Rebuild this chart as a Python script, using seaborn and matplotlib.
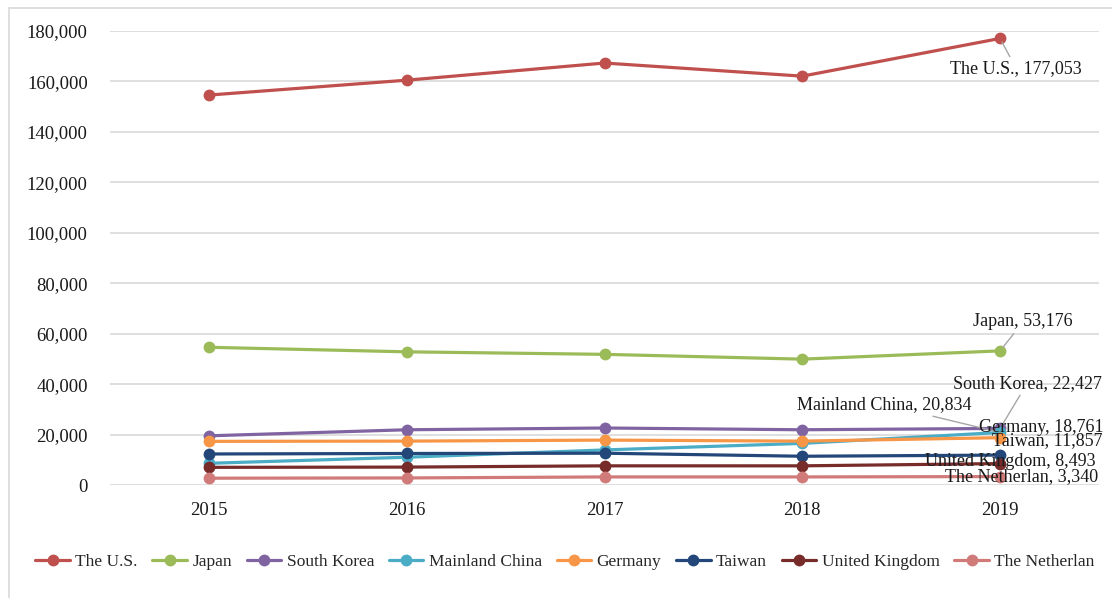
import numpy as np
import pandas as pd
import matplotlib
matplotlib.use("Agg")
import matplotlib.pyplot as plt
from matplotlib.ticker import FuncFormatter
from matplotlib.lines import Line2D
import seaborn as sns

years = ["2015", "2016", "2017", "2018", "2019"]
countries = ["The U.S.", "Japan", "South Korea", "Mainland China", "Germany",
             "Taiwan", "United Kingdom", "The Netherlan"]
us = [154600, 160500, 167300, 162100, 177053]
japan = [54600, 52800, 51800, 49900, 53176]
south_korea = [19500, 21900, 22600, 21900, 22427]
mainland_china = [8600, 11000, 13900, 16500, 20834]
germany = [17300, 17400, 17800, 17400, 18761]
taiwan = [12300, 12500, 12600, 11400, 11857]
uk = [7000, 7100, 7600, 7600, 8493]
netherlands = [2700, 2800, 3200, 3200, 3340]
series = [us, japan, south_korea, mainland_china, germany, taiwan, uk, netherlands]

colors = ["#C0504D", "#9BBB59", "#8064A2", "#4BACC6", "#F79646",
          "#24477A", "#772C2A", "#D07A7A"]

rows = []
for c, vals in zip(countries, series):
    for i, v in enumerate(vals):
        rows.append({"idx": i, "value": v, "country": c})
df = pd.DataFrame(rows)

sns.set_theme(style="white")
plt.rcParams["font.family"] = ["Liberation Serif", "DejaVu Serif"]

fig = plt.figure(figsize=(11.12, 5.98), dpi=100)
ax = fig.add_axes([110 / 1112, 1 - 485 / 598, (1099 - 110) / 1112, (485 - 31) / 598])

sns.lineplot(data=df, x="idx", y="value", hue="country", hue_order=countries,
             palette=colors, marker="o", markersize=8.5, markeredgewidth=0,
             linewidth=2.3, ax=ax, legend=False, sort=False)

ax.set_xlim(-0.5, 4.5)
ax.set_ylim(0, 180000)
ax.set_yticks(np.arange(0, 180001, 20000))
ax.yaxis.set_major_formatter(FuncFormatter(lambda v, p: f"{int(v):,}"))
ax.set_xticks(range(len(years)))
ax.set_xticklabels(years)
ax.set_xlabel("")
ax.set_ylabel("")
ax.grid(axis="y", color="#D9D9D9", linewidth=1.2)
ax.grid(axis="x", visible=False)
ax.set_axisbelow(True)
for s in ax.spines.values():
    s.set_visible(False)
ax.tick_params(axis="y", length=0, pad=16, labelsize=13.5, colors="#1a1a1a")
ax.tick_params(axis="x", length=0, pad=12, labelsize=13.5, colors="#1a1a1a")

# data labels on the last point
label_specs = {
    "The U.S.": ((16, -30), True),
    "Japan": ((23, 29), True),
    "South Korea": ((27, 45), True),
    "Mainland China": ((-116, 28), True),
    "Germany": ((41, 10), False),
    "Taiwan": ((47, 15), False),
    "United Kingdom": ((10, 2), False),
    "The Netherlan": ((21, 0), False),
}
for c, vals in zip(countries, series):
    off, leader = label_specs[c]
    arrow = dict(arrowstyle="-", color="#A6A6A6", lw=1.0, shrinkA=0, shrinkB=3) if leader else None
    ax.annotate(f"{c}, {vals[-1]:,}", xy=(4, vals[-1]), xytext=off,
                textcoords="offset pixels", ha="center", va="center",
                fontsize=13, color="#1a1a1a", arrowprops=arrow,
                annotation_clip=False, zorder=5)

handles = [Line2D([0], [0], color=col, lw=2.3, marker="o", markersize=8.5,
                  markeredgewidth=0) for col in colors]
fig.legend(handles, countries, loc="center", bbox_to_anchor=(0.508, 1 - 562 / 598),
           ncol=8, frameon=False, fontsize=12.5, handlelength=2.0,
           handletextpad=0.3, columnspacing=0.85, borderpad=0.2)

# chart border (top and left visible)
fig.add_artist(Line2D([9 / 1112, 1.0], [1 - 8 / 598, 1 - 8 / 598],
                      transform=fig.transFigure, color="#D9D9D9", lw=1.2))
fig.add_artist(Line2D([9 / 1112, 9 / 1112], [0, 1 - 8 / 598],
                      transform=fig.transFigure, color="#D9D9D9", lw=1.2))

fig.savefig("out.png", dpi=100, facecolor="white")
